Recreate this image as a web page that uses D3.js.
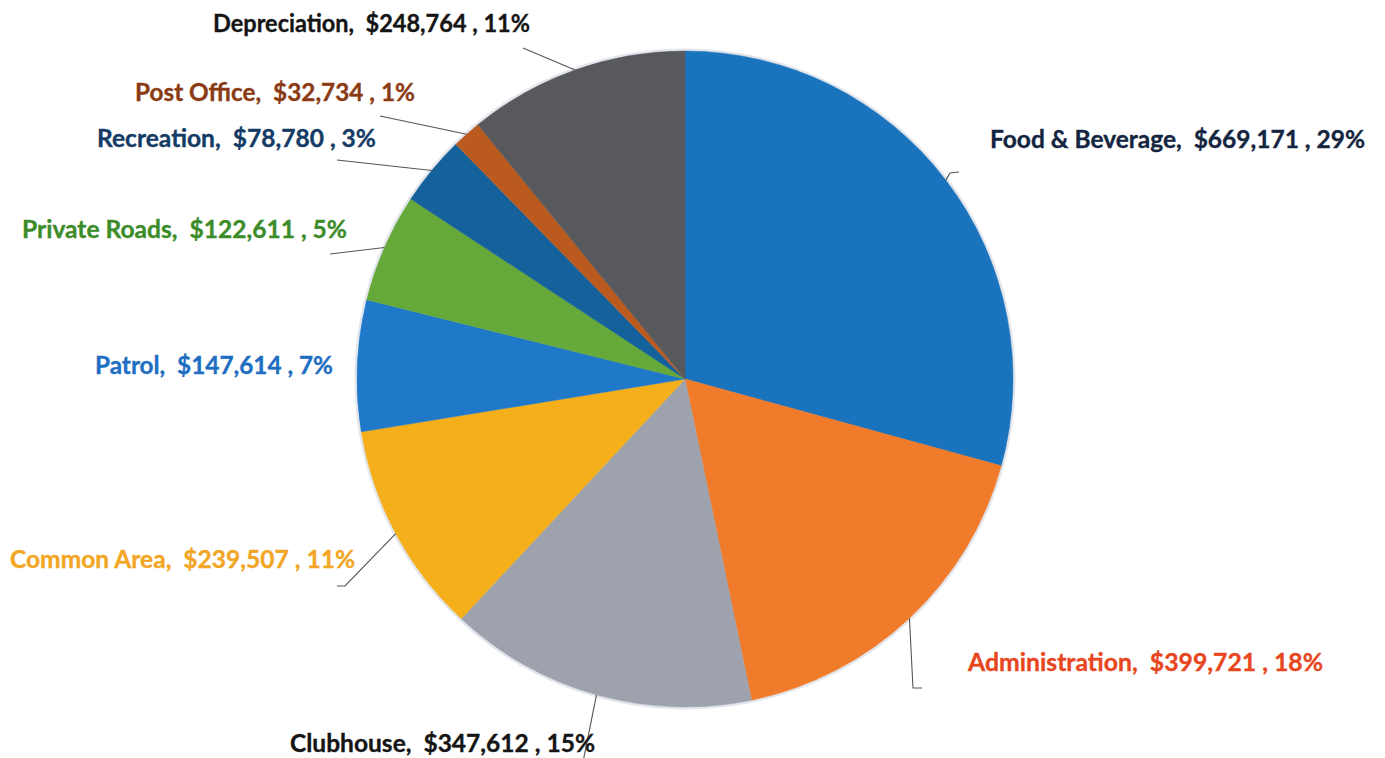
<!DOCTYPE html>
<html>
<head>
<meta charset="utf-8">
<script src="https://cdn.jsdelivr.net/npm/d3@7"></script>
<style>
  html, body { margin: 0; padding: 0; background: #fff; }
  svg { display: block; }
  .label { font-family: Lato, "Open Sans", sans-serif; font-weight: 700; font-size: 25px; white-space: pre; stroke-width: 0.35px; }
</style>
</head>
<body>
<svg id="chart"></svg>
<script>
// Data (clockwise from 12 o'clock)
const categories = ['Food & Beverage', 'Administration', 'Clubhouse', 'Common Area', 'Patrol',
  'Private Roads', 'Recreation', 'Post Office', 'Depreciation'];
const values = [669171, 399721, 347612, 239507, 147614, 122611, 78780, 32734, 248764];
const percents = [29, 18, 15, 11, 7, 5, 3, 1, 11];

const sliceColors = ['#1a73bd', '#f07b2a', '#9da2ad', '#f4af1b', '#1f78c8',
  '#66a83a', '#14619b', '#ba5a1e', '#58595c'];
const labelColors = ['#14253f', '#e8461e', '#151515', '#f2a624', '#1e6ec2',
  '#3c8c2a', '#143b66', '#8a3b14', '#151515'];

// Label layout (where the data labels were dragged to)
const labelAnchor = [[990, 148], [968, 671], [290, 752], [10, 568], [95, 374],
  [22, 238], [97, 147], [135, 101], [213, 32]];
const labelWidth = [375, 355, 305, 345, 238, 325, 279, 280, 317];
const leaderEnds = [
  [[950, 173], [959, 172]],
  [[913, 688], [922, 688]],
  [[583, 762]],
  [[345, 586], [337, 586]],
  null,
  [[330, 254]],
  [[337, 160]],
  [[380, 116]],
  [[523, 48]]
];

const width = 1385;
const height = 758;
const cx = 685;
const cy = 379;
const radius = 328;

const svg = d3.select('#chart')
  .attr('width', width)
  .attr('height', height)
  .attr('viewBox', `0 0 ${width} ${height}`);

const data = categories.map((name, i) => ({ name, value: values[i], pct: percents[i], i }));

const pie = d3.pie().sort(null).value(d => d.value);
const arc = d3.arc().innerRadius(0).outerRadius(radius);
const edge = d3.arc().innerRadius(radius).outerRadius(radius);
const arcs = pie(data);

const g = svg.append('g').attr('transform', `translate(${cx},${cy})`);

// soft rim like the scanned original
g.append('circle')
  .attr('r', radius + 1)
  .attr('fill', 'none')
  .attr('stroke', '#e3e6ec')
  .attr('stroke-width', 3);

g.selectAll('path.slice')
  .data(arcs)
  .join('path')
  .attr('class', 'slice')
  .attr('d', arc)
  .attr('fill', d => sliceColors[d.data.i])
  .attr('stroke', d => sliceColors[d.data.i])
  .attr('stroke-width', 0.5);

// Leader lines: from the slice edge at its mid angle to the label
const line = d3.line();
svg.selectAll('path.leader')
  .data(arcs.filter(d => leaderEnds[d.data.i]))
  .join('path')
  .attr('class', 'leader')
  .attr('d', d => {
    const [ex, ey] = edge.centroid(d);
    return line([[cx + ex, cy + ey], ...leaderEnds[d.data.i]]);
  })
  .attr('fill', 'none')
  .attr('stroke', '#555')
  .attr('stroke-width', 1.1);

const fmt = d3.format('$,');

svg.selectAll('text.label')
  .data(data)
  .join('text')
  .attr('class', 'label')
  .attr('x', d => labelAnchor[d.i][0])
  .attr('y', d => labelAnchor[d.i][1])
  .attr('fill', d => labelColors[d.i])
  .attr('stroke', d => labelColors[d.i])
  .attr('textLength', d => labelWidth[d.i])
  .attr('lengthAdjust', 'spacingAndGlyphs')
  .text(d => `${d.name},  ${fmt(d.value)} , ${d.pct}%`);
</script>
</body>
</html>
